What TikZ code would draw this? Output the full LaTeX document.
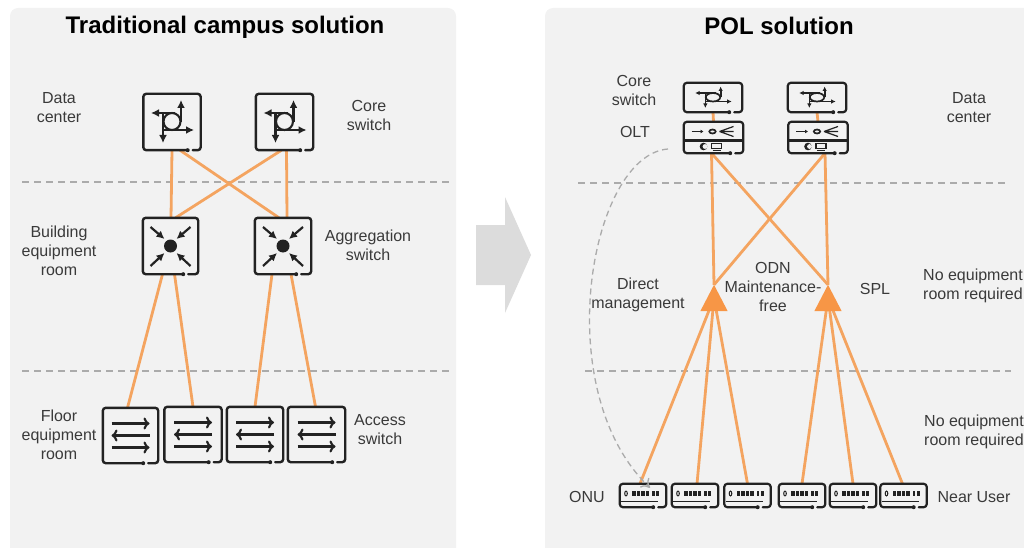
\documentclass[tikz,border=0pt]{standalone}
\usepackage{fontspec}
\setmainfont{Liberation Sans}
\usetikzlibrary{arrows.meta,calc}

\definecolor{panelgray}{HTML}{F2F2F2}
\definecolor{dashgray}{HTML}{ABABAB}
\definecolor{arrowgray}{HTML}{DCDCDC}
\definecolor{linkorange}{HTML}{F4A460}
\definecolor{splorange}{HTML}{F79646}
\definecolor{textgray}{HTML}{3A3A3A}
\definecolor{iconblack}{HTML}{222222}

% frame with the small gap at the lower right
\newcommand{\devframe}[3]{
\draw[iconblack,line width=#3,line cap=round,rounded corners=3pt] ([xshift=-#2-4pt]#1.south east) -- (#1.south west) -- (#1.north west) -- (#1.north east) -- (#1.south east) -- ([xshift=-#2+1pt]#1.south east);
\fill[iconblack] ([xshift=-#2-4pt]#1.south east) circle (2pt);
}
\newcommand{\coreicon}[6]{
\begin{scope}[shift={(#1,#2)},xscale=#3,yscale=#4,line width=#5,iconblack,>={Latex[length=#6,width=#6]}]
\draw[->] (9,0) -- (9,-22);
\draw[->] (3,-9) -- (-21,-9);
\draw[<-] (-9,21) -- (-9,-9);
\draw[->] (-9,8) -- (22,8);
\draw (0,-0.5) circle (8.5pt);
\end{scope}
}
\newcommand{\aggicon}[2]{
\begin{scope}[shift={(#1,#2)},line width=2.2pt,iconblack]
\fill (0,0) circle (6.5pt);
\draw[-{Latex[length=8pt,width=8pt]}] (-20,-19) -- (-6,-7);
\draw[-{Latex[length=8pt,width=8pt]}] (20,-19) -- (6,-7);
\draw[-{Latex[length=8pt,width=8pt]}] (-20,20) -- (-6,7);
\draw[-{Latex[length=8pt,width=8pt]}] (20,20) -- (6,7);
\end{scope}
}
\newcommand{\accessicon}[2]{
\begin{scope}[shift={(#1,#2)},line width=2.1pt,iconblack]
\draw[-{To[length=6pt,width=12pt]}] (-19,-12) -- (19,-12);
\draw[-{To[length=6pt,width=12pt]}] (19,0) -- (-19,0);
\draw[-{To[length=6pt,width=12pt]}] (-19,12) -- (19,12);
\end{scope}
}
\newcommand{\olticon}[2]{
\begin{scope}[shift={(#1,#2)},iconblack]
\draw[line width=2.2pt] (-30,3) -- (29,3);
\draw[line width=1.4pt,-{Latex[length=3pt,width=4pt]}] (-22,-6) -- (-10,-6);
\draw[line width=1.7pt] (-1,-6) ellipse (3.2pt and 2pt);
\draw[line width=1.2pt] (6,-6) -- (20,-11) (6,-6) -- (20,-6) (6,-6) -- (20,-1);
\fill (-10,9) circle (3.8pt);
\fill[panelgray] (-8.5,9) circle (2.4pt);
\draw[line width=1.5pt] (-2,6) rectangle (8,11);
\draw[line width=1.5pt] (-1,13) -- (7,13);
\end{scope}
}
\newcommand{\onuicon}[2]{
\begin{scope}[shift={(#1,#2)},iconblack]
\draw[line width=1pt] (-17,-2) ellipse (1.3pt and 2.4pt);
\fill (-11,-4.5) rectangle (-7.5,0);
\fill (-6.5,-4.5) rectangle (-3,0);
\fill (-2,-4.5) rectangle (1.5,0);
\fill (2.5,-4.5) rectangle (6,0);
\fill (9,-4.5) rectangle (11.5,0);
\fill (13,-4.5) rectangle (16,0);
\draw[line width=1.8pt] (-22,6) -- (15,6);
\end{scope}
}
\newcommand{\spltriangle}[1]{
\fill[splorange] (#1.north) -- (#1.south east) -- (#1.south west) -- cycle;
}

\begin{document}
\begin{tikzpicture}[x=1pt,y=-1pt]
\tikzstyle{title}=[font=\fontsize{24}{28}\selectfont\bfseries,text=black]
\tikzstyle{lbl}=[font=\fontsize{16}{19}\selectfont,text=textgray,align=center,inner sep=0pt]
\tikzstyle{zoneline}=[dashed,dash pattern=on 7pt off 5pt,line width=1.2pt,dashgray]
\tikzstyle{link}=[line width=2.8pt,linkorange]
\tikzstyle{dev}=[inner sep=0pt,draw=none]
\tikzstyle{bigdev}=[dev,minimum width=57pt,minimum height=56pt]
\tikzstyle{coresm}=[dev,minimum width=58pt,minimum height=29pt]
\tikzstyle{oltbox}=[dev,minimum width=59pt,minimum height=31pt]
\tikzstyle{onubox}=[dev,minimum width=46pt,minimum height=23pt]
\tikzstyle{splbox}=[dev,minimum width=27pt,minimum height=26pt]

\useasboundingbox (0,0) rectangle (1024,548);

% panels
\fill[panelgray,rounded corners=8pt] (10,8) rectangle (456,556);
\fill[panelgray,rounded corners=8pt] (545,8) rectangle (1040,556);
\fill[arrowgray] (476,225) -- (505,225) -- (505,197) -- (531,255) -- (505,313) -- (505,285) -- (476,285) -- cycle;

\node[title] (lefttitle) at (225,27) {Traditional campus solution};
\node[title] (righttitle) at (779,26) {POL solution};

\draw[zoneline] (22,182) -- (449,182);
\draw[zoneline] (22,371) -- (449,371);
\draw[zoneline] (578,183) -- (1006,183);
\draw[zoneline] (585,371) -- (1011,371);

% left side devices
\node[bigdev] (core1) at (172,122) {};
\node[bigdev] (core2) at (284.5,122) {};
\node[bigdev,minimum width=55pt] (agg1) at (170.5,246) {};
\node[bigdev,minimum width=56pt] (agg2) at (283,246) {};
\node[bigdev,minimum width=55pt,minimum height=55pt] (acc1) at (130.5,435.5) {};
\node[bigdev,minimum height=55pt] (acc2) at (193,434.5) {};
\node[bigdev,minimum width=56pt,minimum height=55pt] (acc3) at (255,434.5) {};
\node[bigdev,minimum height=55pt] (acc4) at (316.5,434.5) {};

% right side devices
\node[coresm] (rcore1) at (713,97.5) {};
\node[coresm] (rcore2) at (817,97.5) {};
\node[oltbox] (olt1) at (713.5,137.5) {};
\node[oltbox] (olt2) at (818,137.5) {};
\node[splbox] (spl1) at (714,298) {};
\node[splbox] (spl2) at (828,298) {};
\node[onubox] (onu1) at (643,495.5) {};
\node[onubox] (onu2) at (695,495.5) {};
\node[onubox] (onu3) at (747.5,495.5) {};
\node[onubox] (onu4) at (802,495.5) {};
\node[onubox] (onu5) at (853,495.5) {};
\node[onubox] (onu6) at (903.5,495.5) {};

% links
\draw[link] (core1.south) -- ([xshift=0.5pt]agg1.north);
\draw[link] ([xshift=8pt]core1.south) -- ([xshift=-4pt]agg2.north);
\draw[link] ([xshift=-3pt]core2.south) -- ([xshift=5pt]agg1.north);
\draw[link] ([xshift=2pt]core2.south) -- ([xshift=4pt]agg2.north);
\draw[link] ([xshift=-8pt]agg1.south) -- ([xshift=-3pt]acc1.north);
\draw[link] ([xshift=4pt]agg1.south) -- (acc2.north);
\draw[link] ([xshift=-11pt]agg2.south) -- (acc3.north);
\draw[link] ([xshift=8pt]agg2.south) -- ([xshift=-1pt]acc4.north);
\draw[link] (rcore1.south) -- (olt1.north);
\draw[link] (rcore2.south) -- (olt2.north);
\draw[link] ([xshift=-2pt]olt1.south) -- (spl1.north);
\draw[link] ([xshift=-2pt]olt1.south) -- (spl2.north);
\draw[link] ([xshift=7pt]olt2.south) -- (spl1.north);
\draw[link] ([xshift=7pt]olt2.south) -- (spl2.north);
\draw[link] (spl1.center) -- ([xshift=-3pt]onu1.north);
\draw[link] (spl1.center) -- ([xshift=2pt]onu2.north);
\draw[link] (spl1.center) -- (onu3.north);
\draw[link] (spl2.center) -- (onu4.north);
\draw[link] (spl2.center) -- (onu5.north);
\draw[link] (spl2.center) -- ([xshift=-1pt]onu6.north);

\spltriangle{spl1}
\spltriangle{spl2}

% frames and icons
\devframe{core1}{9pt}{2.4pt}
\devframe{core2}{9pt}{2.4pt}
\devframe{agg1}{11pt}{2.4pt}
\devframe{agg2}{11pt}{2.4pt}
\devframe{acc1}{11pt}{2.4pt}
\devframe{acc2}{9pt}{2.4pt}
\devframe{acc3}{9pt}{2.4pt}
\devframe{acc4}{9pt}{2.4pt}
\devframe{rcore1}{9pt}{2.2pt}
\devframe{rcore2}{9pt}{2.2pt}
\devframe{olt1}{9pt}{2.2pt}
\devframe{olt2}{9pt}{2.2pt}
\devframe{onu1}{9pt}{2.2pt}
\devframe{onu2}{9pt}{2.2pt}
\devframe{onu3}{9pt}{2.2pt}
\devframe{onu4}{9pt}{2.2pt}
\devframe{onu5}{9pt}{2.2pt}
\devframe{onu6}{9pt}{2.2pt}

\coreicon{172}{122}{1}{1}{2.1pt}{8pt}
\coreicon{284.5}{122}{1}{1}{2.1pt}{8pt}
\aggicon{170.5}{246}
\aggicon{283}{246}
\accessicon{130.5}{435.5}
\accessicon{193}{434.5}
\accessicon{255}{434.5}
\accessicon{316.5}{434.5}
\coreicon{713}{97.5}{.85}{.5}{1.7pt}{4.5pt}
\coreicon{817}{97.5}{.85}{.5}{1.7pt}{4.5pt}
\olticon{713.5}{137.5}
\olticon{818}{137.5}
\onuicon{643}{495.5}
\onuicon{695}{495.5}
\onuicon{747.5}{495.5}
\onuicon{802}{495.5}
\onuicon{853}{495.5}
\onuicon{903.5}{495.5}

% dashed management curve
\coordinate (mgmtstart) at (668,149);
\draw[dashgray,line width=1.3pt,dash pattern=on 6pt off 4pt,-{To[length=8pt,width=13pt]}] (mgmtstart) .. controls (590,155) and (548,390) .. ([xshift=7pt,yshift=-4pt]onu1.north);

% labels
\node[lbl] (datacenter) at (59,108) {Data\\center};
\node[lbl] (coresw) at (369,115) {Core\\switch};
\node[lbl] (building) at (59,251) {Building\\equipment\\room};
\node[lbl] (aggsw) at (368,245) {Aggregation\\switch};
\node[lbl] (floor) at (59,435) {Floor\\equipment\\room};
\node[lbl] (accsw) at (380,430) {Access\\switch};
\node[lbl] (rcoresw) at (634,90) {Core\\switch};
\node[lbl] (oltlbl) at (635,132) {OLT};
\node[lbl] (rdatacenter) at (969,108) {Data\\center};
\node[lbl] (direct) at (638,295) {Direct\\management};
\node[lbl] (odn) at (773,287) {ODN\\Maintenance-\\free};
\node[lbl] (spllbl) at (875,289) {SPL};
\node[lbl] (noroom1) at (973,286) {No equipment\\room required};
\node[lbl] (noroom2) at (974,432) {No equipment\\room required};
\node[lbl] (onulbl) at (587,497) {ONU};
\node[lbl] (nearuser) at (974,497) {Near User};
\end{tikzpicture}
\end{document}
